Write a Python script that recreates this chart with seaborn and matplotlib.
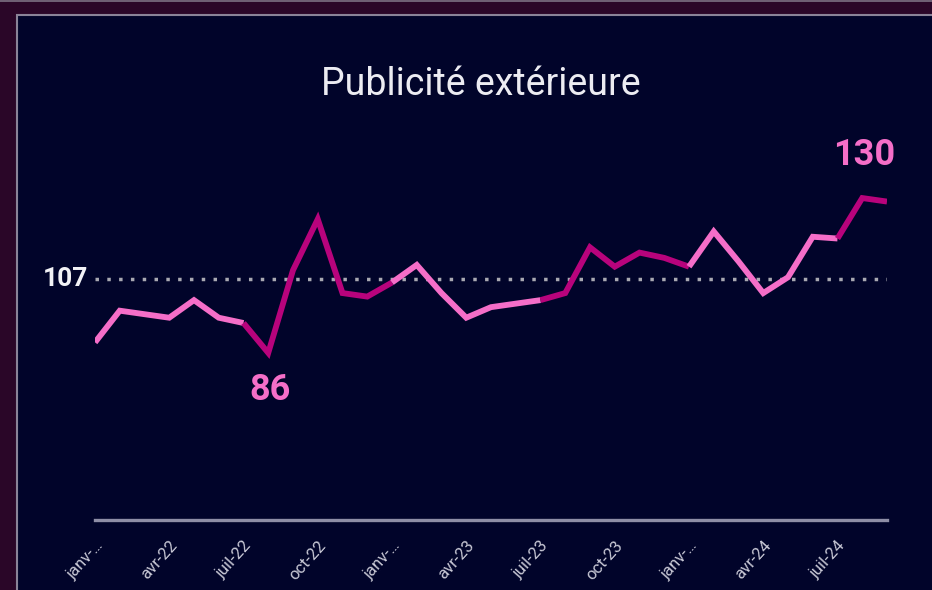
import matplotlib
matplotlib.use("Agg")
import matplotlib.pyplot as plt
import seaborn as sns
import pandas as pd
from matplotlib.patches import Rectangle

# ---- data ----
months = ["janv-22", "févr-22", "mars-22", "avr-22", "mai-22", "juin-22",
          "juil-22", "août-22", "sept-22", "oct-22", "nov-22", "déc-22",
          "janv-23", "févr-23", "mars-23", "avr-23", "mai-23", "juin-23",
          "juil-23", "août-23", "sept-23", "oct-23", "nov-23", "déc-23",
          "janv-24", "févr-24", "mars-24", "avr-24", "mai-24", "juin-24",
          "juil-24", "août-24", "sept-24"]
values = [89, 98, 97, 96, 101, 96,
          94.5, 86, 109.5, 124, 103, 102,
          106, 111, 103, 96, 99, 100,
          101, 103, 116, 110.5, 114.5, 113,
          110.5, 120.5, 112, 103, 107.5, 119,
          118.5, 130, 129]
tick_months = [0, 3, 6, 9, 12, 15, 18, 21, 24, 27, 30]
tick_labels = ["janv-…", "avr-22", "juil-22", "oct-22", "janv-…", "avr-23",
               "juil-23", "oct-23", "janv-…", "avr-24", "juil-24"]
average = 107
title = "Publicité extérieure"

LIGHT = "#f56ec8"
DARK = "#b8037c"
BG_OUT = "#2a0628"
BG_PANEL = "#01042a"

# build half-year segments (boundary points shared)
rows = []
seg_len = 6
nseg = (len(values) - 1 + seg_len - 1) // seg_len
for s in range(nseg):
    for i in range(s * seg_len, min(s * seg_len + seg_len, len(values) - 1) + 1):
        rows.append({"idx": i, "value": values[i], "seg": s})
df = pd.DataFrame(rows)
palette = {s: (LIGHT if s % 2 == 0 else DARK) for s in range(nseg)}

sns.set_theme(style="white")
plt.rcParams["font.family"] = ["Roboto", "DejaVu Sans"]

W, H = 932, 590
fig = plt.figure(figsize=(W / 100, H / 100), dpi=100)
fig.patch.set_facecolor(BG_OUT)

# panel background
fig.patches.append(Rectangle((17 / W, -0.01), 1.0, (H - 15) / H + 0.01,
                             transform=fig.transFigure, facecolor=BG_PANEL,
                             edgecolor="#8a8398", linewidth=1.5, zorder=0))
fig.patches.append(Rectangle((0, (H - 2) / H), 1.0, 2 / H,
                             transform=fig.transFigure, facecolor="#6e5f74",
                             edgecolor="none", zorder=0))

left_px, right_px = 95, 887
bottom_px, top_px = 520, 150
ax = fig.add_axes([left_px / W, (H - bottom_px) / H,
                   (right_px - left_px) / W, (bottom_px - top_px) / H])
ax.set_zorder(5)
ax.set_facecolor("none")

ax.axhline(average, color="#a9a9b2", lw=2.5, linestyle=(0, (1, 2.4)), zorder=1)

sns.lineplot(data=df, x="idx", y="value", hue="seg", palette=palette,
             linewidth=4.2, legend=False, sort=False, ax=ax, zorder=3)
for line in ax.get_lines():
    line.set_solid_joinstyle("miter")
    line.set_solid_capstyle("butt")

ax.set_xlim(0, len(values) - 1)
px_per_unit = 3.52
ax.set_ylim(average - (bottom_px - 279) / px_per_unit,
            average + (279 - top_px) / px_per_unit)

ax.set_xticks(tick_months)
ax.set_xticklabels(tick_labels, rotation=48, ha="right", va="top",
                   rotation_mode="anchor", color="#c9c9d6", fontsize=12)
ax.tick_params(axis="x", length=0, pad=13)
ax.set_yticks([])
ax.set_xlabel("")
ax.set_ylabel("")
for side in ["left", "right", "top"]:
    ax.spines[side].set_visible(False)
ax.spines["bottom"].set_color("#8e8ea6")
ax.spines["bottom"].set_linewidth(2.4)

# annotations
imin = values.index(min(values))
imax = values.index(max(values))
ax.annotate(f"{min(values):g}", (imin, values[imin]), xytext=(1, -27),
            textcoords="offset points", ha="center", va="center",
            color=LIGHT, fontsize=26, fontweight="bold")
ax.annotate(f"{max(values):g}", (imax, values[imax]), xytext=(1, 31),
            textcoords="offset points", ha="center", va="center",
            color=LIGHT, fontsize=26, fontweight="bold")
ax.annotate(f"{average}", (0, average), xytext=(-5, 0),
            textcoords="offset points", ha="right", va="center",
            color="#f2f2f6", fontsize=19, fontweight="bold")

fig.text(481 / W, (H - 85) / H, title, ha="center", va="center",
         color="#ececf2", fontsize=27)

fig.savefig("out.png", dpi=100, facecolor=fig.get_facecolor())
